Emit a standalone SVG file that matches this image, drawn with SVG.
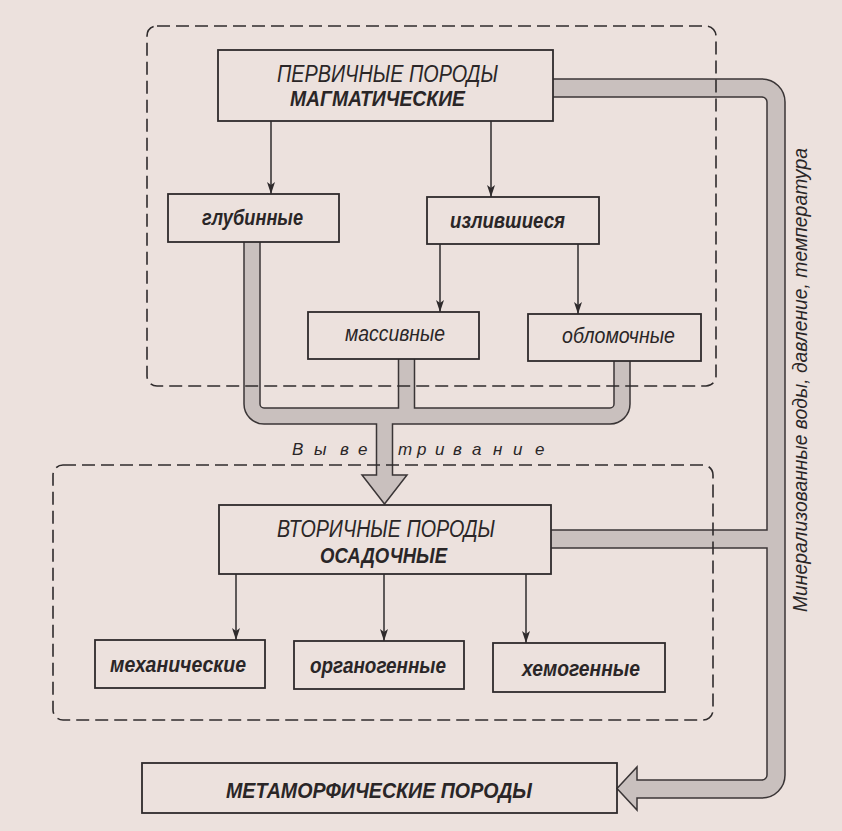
<svg xmlns="http://www.w3.org/2000/svg" width="842" height="831" viewBox="0 0 842 831">
<defs>
<style>
.bg{fill:#ece1dd}
.box{fill:none;stroke:#2f2b2c;stroke-width:1.8}
.dash{fill:none;stroke:#2f2b2c;stroke-width:1.6;stroke-dasharray:13 6}
.ln{fill:none;stroke:#2f2b2c;stroke-width:1.5}
.bo{fill:none;stroke:#3a3536;stroke-width:17.5}
.bf{fill:none;stroke:#c9c0be;stroke-width:14.5}
.bo2{fill:none;stroke:#3a3536;stroke-width:19.5}
.bf2{fill:none;stroke:#c9c0be;stroke-width:16.5}
.ah{fill:#c9c0be;stroke:#3a3536;stroke-width:1.5;stroke-linejoin:miter}
.t{font-family:"Liberation Sans",Arial,sans-serif;font-style:italic;fill:#2a2627}
.b{font-weight:bold}
</style>
<marker id="arr" viewBox="0 0 12 8" refX="12" refY="4" markerWidth="12" markerHeight="8" markerUnits="userSpaceOnUse" orient="auto">
<path d="M0,0 L12,4 L0,8 L3,4 z" fill="#2f2b2c"/>
</marker>
</defs>
<rect class="bg" x="0" y="0" width="842" height="831"/>

<g id="connectors">
  <line class="ln" x1="271" y1="121" x2="271" y2="194" marker-end="url(#arr)"/>
  <line class="ln" x1="491" y1="121" x2="491" y2="197" marker-end="url(#arr)"/>
  <line class="ln" x1="440" y1="244" x2="440" y2="312" marker-end="url(#arr)"/>
  <line class="ln" x1="578" y1="244" x2="578" y2="314" marker-end="url(#arr)"/>
  <line class="ln" x1="236" y1="574" x2="236" y2="640" marker-end="url(#arr)"/>
  <line class="ln" x1="384" y1="574" x2="384" y2="641" marker-end="url(#arr)"/>
  <line class="ln" x1="526" y1="574" x2="526" y2="643" marker-end="url(#arr)"/>

  <path class="bo" d="M252,242 V404 A12,12 0 0 0 264,416 H610 A12,12 0 0 0 622,404 V361"/>
  <path class="bo" d="M406.5,359 V416"/>
  <path class="bo" d="M384.5,416 V478"/>
  <path class="bo2" d="M553,88 H762 A14,14 0 0 1 776,102 V775 A14,14 0 0 1 762,789 H635"/>
  <path class="bo2" d="M551,539 H776"/>

  <polygon class="ah" points="362,475 407,475 384.5,504"/>
  <polygon class="ah" points="637,767 637,810 617,788.5"/>

  <path class="bf" d="M252,242 V404 A12,12 0 0 0 264,416 H610 A12,12 0 0 0 622,404 V361"/>
  <path class="bf" d="M406.5,359 V416"/>
  <path class="bf" d="M384.5,416 V478"/>
  <path class="bf2" d="M553,88 H762 A14,14 0 0 1 776,102 V775 A14,14 0 0 1 762,789 H635"/>
  <path class="bf2" d="M551,539 H776"/>
</g>

<g id="group-magmatic">
  <rect class="dash" x="147" y="26" width="569" height="360" rx="10"/>
</g>
<g id="group-sedimentary">
  <rect class="dash" x="53" y="465" width="660" height="255" rx="10"/>
</g>

<g id="primary">
  <rect class="box" x="218" y="50" width="335" height="71"/>
  <text class="t" x="277" y="82" font-size="23" textLength="221" lengthAdjust="spacingAndGlyphs">ПЕРВИЧНЫЕ ПОРОДЫ</text>
  <text class="t b" x="290" y="106" font-size="22" textLength="175" lengthAdjust="spacingAndGlyphs">МАГМАТИЧЕСКИЕ</text>
</g>
<g id="deep">
  <rect class="box" x="168" y="194" width="171" height="48"/>
  <text class="t b" x="202" y="225" font-size="22" textLength="101" lengthAdjust="spacingAndGlyphs">глубинные</text>
</g>
<g id="effusive">
  <rect class="box" x="427" y="197" width="172" height="47"/>
  <text class="t b" x="450" y="228" font-size="22" textLength="115" lengthAdjust="spacingAndGlyphs">излившиеся</text>
</g>
<g id="massive">
  <rect class="box" x="308" y="312" width="171" height="47"/>
  <text class="t" x="345" y="341" font-size="22" textLength="100" lengthAdjust="spacingAndGlyphs">массивные</text>
</g>
<g id="clastic">
  <rect class="box" x="528" y="314" width="173" height="47"/>
  <text class="t" x="562" y="343" font-size="22" textLength="113" lengthAdjust="spacingAndGlyphs">обломочные</text>
</g>

<g id="weathering-label">
  <text class="t" y="455" font-size="17" x="292 314 340 358">Выве</text>
  <text class="t" y="455" font-size="17" x="398 417 435 453 472 493 513 535">тривание</text>
</g>

<g id="secondary">
  <rect class="box" x="219" y="505" width="332" height="69"/>
  <text class="t" x="277" y="537" font-size="23" textLength="218" lengthAdjust="spacingAndGlyphs">ВТОРИЧНЫЕ ПОРОДЫ</text>
  <text class="t b" x="320" y="563" font-size="22" textLength="127" lengthAdjust="spacingAndGlyphs">ОСАДОЧНЫЕ</text>
</g>
<g id="mechanical">
  <rect class="box" x="95" y="640" width="170" height="48"/>
  <text class="t b" x="110" y="672" font-size="22" textLength="136" lengthAdjust="spacingAndGlyphs">механические</text>
</g>
<g id="organogenic">
  <rect class="box" x="294" y="641" width="170" height="48"/>
  <text class="t b" x="310" y="673" font-size="22" textLength="136" lengthAdjust="spacingAndGlyphs">органогенные</text>
</g>
<g id="chemogenic">
  <rect class="box" x="493" y="643" width="172" height="49"/>
  <text class="t b" x="522" y="676" font-size="22" textLength="118" lengthAdjust="spacingAndGlyphs">хемогенные</text>
</g>

<g id="metamorphic">
  <rect class="box" x="142" y="763" width="475" height="50"/>
  <text class="t b" x="226" y="798" font-size="22" textLength="306" lengthAdjust="spacingAndGlyphs">МЕТАМОРФИЧЕСКИЕ ПОРОДЫ</text>
</g>

<g id="metamorphism-label">
  <text class="t" transform="translate(807,612) rotate(-90)" x="0" y="0" font-size="21" textLength="464" lengthAdjust="spacingAndGlyphs">Минерализованные воды, давление, температура</text>
</g>
</svg>
